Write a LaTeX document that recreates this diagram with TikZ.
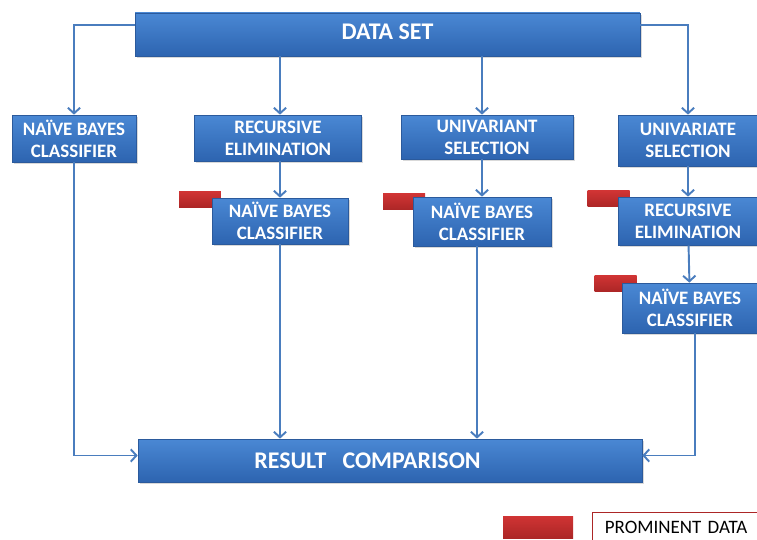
\documentclass[tikz,border=0pt]{standalone}
\usepackage{fontspec}
\setmainfont{Carlito}
\usetikzlibrary{shadows,arrows.meta}

\definecolor{boxtop}{HTML}{4A88D4}
\definecolor{boxbot}{HTML}{2D64B0}
\definecolor{boxline}{HTML}{2B5A9C}
\definecolor{flowcol}{HTML}{4A7DBE}
\definecolor{redtop}{HTML}{D03434}
\definecolor{redbot}{HTML}{AC2626}

\begin{document}
\begin{tikzpicture}[x=0.02cm, y=-0.02cm]
\tikzset{
  box/.style={draw=boxline, top color=boxtop, bottom color=boxbot, text=white,
    align=center, inner sep=0pt, font=\bfseries\fontsize{10.8}{12.5}\selectfont,
    drop shadow={opacity=0.3, shadow xshift=1pt, shadow yshift=-1.2pt}},
  bigbox/.style={box, font=\bfseries\fontsize{13.6}{15}\selectfont,
    minimum width=10.08cm, minimum height=0.86cm},
  prominent/.style={top color=redtop, bottom color=redbot, inner sep=0pt,
    minimum width=0.84cm, minimum height=0.32cm},
  flow/.style={-{Straight Barb[length=3.2pt, width=7pt]}, draw=flowcol, line width=1.1pt}
}
\useasboundingbox (0,0) rectangle (757,540);
% Prominent data marks
\foreach \x/\y [count=\i] in {200/199.5, 404/202, 608.5/199, 615.5/283.5}
  \node[prominent] (red\i) at (\x,\y) {};
% Top and bottom
\node[bigbox, minimum width=10.1cm] (data) at (387.5,34.5) {\raisebox{0.1cm}{DATA SET}};
\node[bigbox] (res) at (390,460.5) {\hspace*{-0.9cm}RESULT\ \ \ COMPARISON};
% Column 1
\node[box, minimum width=2.48cm, minimum height=0.94cm] (nbA) at (74,138.5)
  {NAÏVE BAYES\\CLASSIFIER};
% Column 2
\node[box, minimum width=3.34cm, minimum height=0.92cm] (recB) at (278,138)
  {RECURSIVE\\ELIMINATION};
\node[box, minimum width=2.72cm, minimum height=0.92cm] (nbC) at (280,221)
  {NAÏVE BAYES\\CLASSIFIER};
% Column 3
\node[box, minimum width=3.44cm, minimum height=0.88cm] (uniD) at (487,137)
  {UNIVARIANT\\SELECTION};
\node[box, minimum width=2.76cm, minimum height=0.98cm] (nbE) at (482,221.5)
  {NAÏVE BAYES\\CLASSIFIER};
% Column 4
\node[box, minimum width=2.78cm, minimum height=1.02cm] (uniF) at (688,140.5)
  {UNIVARIATE\\SELECTION};
\node[box, minimum width=2.78cm, minimum height=0.96cm] (recG) at (688,221)
  {RECURSIVE\\ELIMINATION};
\node[box, minimum width=2.72cm, minimum height=1.0cm] (nbH) at (690,308)
  {NAÏVE BAYES\\CLASSIFIER};
% Connectors
\draw[flow] ([yshift=-0.24cm]data.north west) -| (nbA);
\draw[flow] (data.south -| nbC) -- (recB.north -| nbC);
\draw[flow] (data.south -| nbE) -- (uniD.north -| nbE);
\draw[flow] ([yshift=-0.24cm]data.north east) -| (uniF);
\draw[flow] (recB.south -| nbC) -- (nbC);
\draw[flow] (uniD.south -| nbE) -- (nbE);
\draw[flow] (uniF) -- (recG);
\draw[flow] (recG) -- (nbH);
\draw[flow] (nbA) |- ([yshift=0.1cm]res.west);
\draw[flow] (nbC) -- (nbC |- res.north);
\draw[flow] ([xshift=-0.1cm]nbE.south) -- ([xshift=-0.1cm]nbE.south |- res.north);
\draw[flow] ([xshift=0.1cm]nbH.south) |- ([yshift=0.1cm]res.east);
% Legend
\node[prominent, minimum width=1.4cm, minimum height=0.44cm] (legred) at (538,527) {};
\node[draw=redbot, anchor=west, text width=2.9cm, inner xsep=0.25cm,
  minimum height=0.6cm, font=\fontsize{10.8}{12}\selectfont] (legtxt) at (592,527)
  {PROMINENT DATA};
\end{tikzpicture}
\end{document}
